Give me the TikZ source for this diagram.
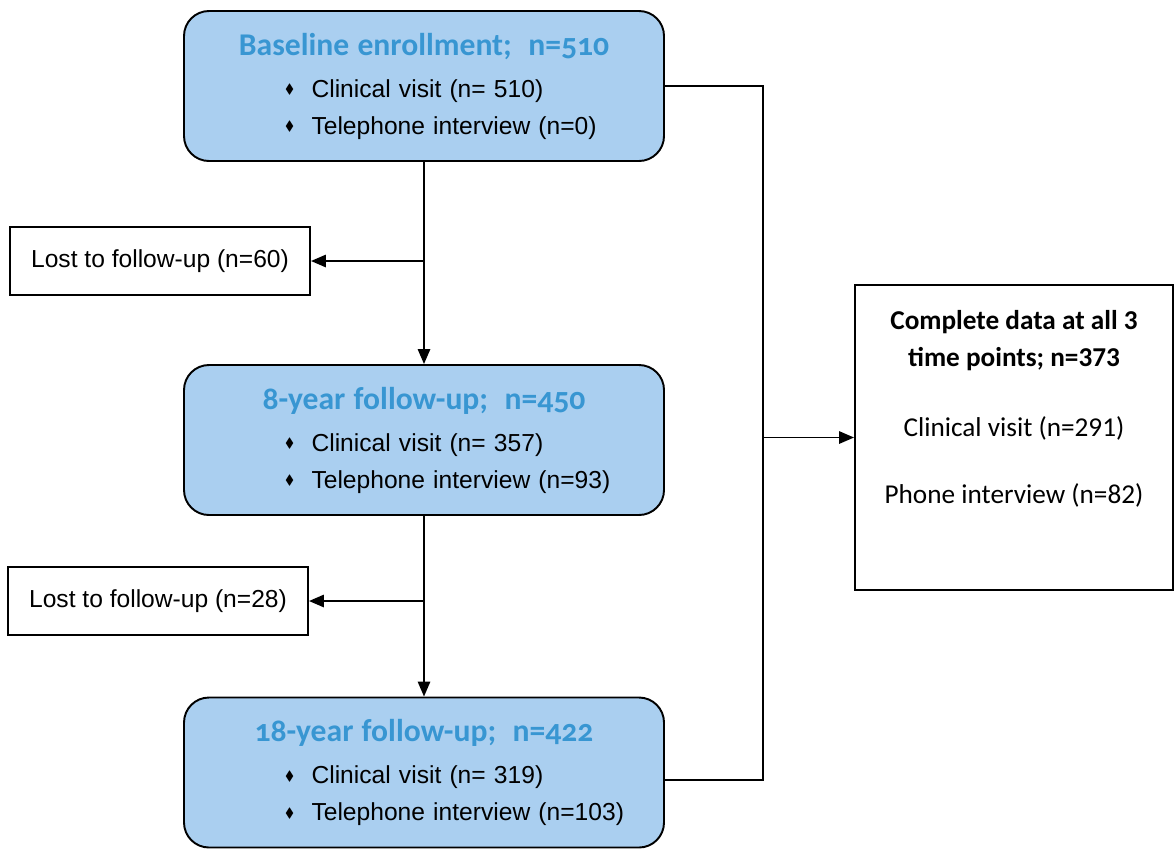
\documentclass[tikz,border=0pt]{standalone}
\usepackage{fontspec}
\usepackage{amssymb}
\usepackage{graphicx}
\setmainfont{Liberation Sans}
\newfontfamily\calibri{Carlito}
\newfontfamily\calibrionum[Numbers=OldStyle]{Carlito}
\usetikzlibrary{arrows.meta}
\definecolor{stagefill}{RGB}{170,207,240}
\definecolor{stagetitle}{RGB}{56,150,210}
\newcommand\bul{\raisebox{0.25ex}{\scalebox{0.55}{$\blacklozenge$}}\hspace{0.35cm}}
\newcommand\stage[3]{%
  \makebox[\linewidth]{\calibrionum\bfseries\fontsize{18}{20}\selectfont\color{stagetitle}#1}\\[3pt]
  \hspace*{2.02cm}\bul #2\\
  \hspace*{2.02cm}\bul #3}

\begin{document}
\begin{tikzpicture}[line width=1.1pt,>={Triangle[length=8.5pt,width=7pt]},
  stagebox/.style={draw,fill=stagefill,rounded corners=0.5cm,text width=9.6cm,
    inner xsep=0pt,minimum height=3cm,align=left,font=\fontsize{14}{21}\selectfont},
  lostbox/.style={draw,minimum width=6cm,minimum height=1.36cm,font=\fontsize{14}{17}\selectfont},
  donebox/.style={draw,minimum width=6.36cm,minimum height=6.1cm}]
\useasboundingbox (0,0) rectangle (23.48,-16.96);
% stages
\node[stagebox] (base) at (8.48,-1.72) {\stage{Baseline enrollment;\ \ n=510}{Clinical visit (n= 510)}{Telephone interview (n=0)}};
\node[stagebox] (fu8) at (8.48,-8.8) {\stage{8-year follow-up;\ \ n=450}{Clinical visit (n= 357)}{Telephone interview (n=93)}};
\node[stagebox] (fu18) at (8.48,-15.45) {\stage{18-year follow-up;\ \ n=422}{Clinical visit (n= 319)}{Telephone interview (n=103)}};
% losses
\node[lostbox] (lost1) at (3.2,-5.22) {Lost to follow-up (n=60)};
\node[lostbox] (lost2) at (3.16,-12.02) {Lost to follow-up (n=28)};
% complete data
\node[donebox] (done) at (20.28,-8.75) {};
\node[anchor=north,inner sep=0pt,align=center,font=\calibri\fontsize{15.5}{21.5}\selectfont]
  (donetxt) at ([yshift=-0.5cm]done.north)
  {\textbf{Complete data at all 3}\\ \textbf{time points; n=373}\\[18pt]
   Clinical visit (n=291)\\[17pt] Phone interview (n=82)};
\coordinate (bus) at (15.26,0);
\coordinate (busend) at (15.26,-15.6);
% connectors
\draw[->] (base) -- (fu8);
\draw[->] (fu8) -- (fu18);
\draw[->] (base.south |- lost1.east) -- (lost1.east);
\draw[->] (fu8.south |- lost2.east) -- (lost2.east);
\draw (base.east) -| (busend) -- (fu18.east |- busend);
\draw[->] (bus |- done.west) -- (done.west);
\end{tikzpicture}
\end{document}
